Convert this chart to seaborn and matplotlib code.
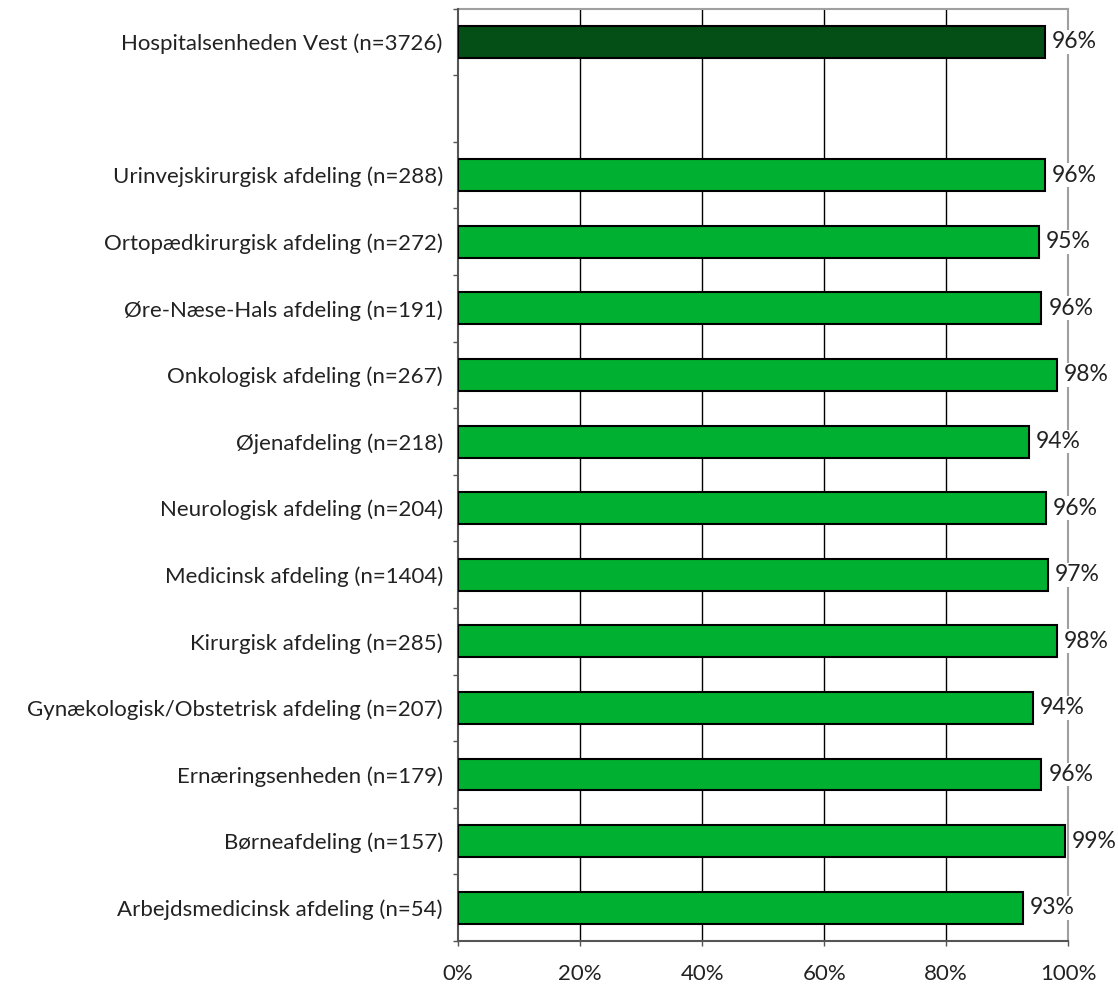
import pandas as pd
import matplotlib.pyplot as plt
import seaborn as sns

# Data (percent)
labels = [
    "Hospitalsenheden Vest (n=3726)",
    " ",
    "Urinvejskirurgisk afdeling (n=288)",
    "Ortopædkirurgisk afdeling (n=272)",
    "Øre-Næse-Hals afdeling (n=191)",
    "Onkologisk afdeling (n=267)",
    "Øjenafdeling (n=218)",
    "Neurologisk afdeling (n=204)",
    "Medicinsk afdeling (n=1404)",
    "Kirurgisk afdeling (n=285)",
    "Gynækologisk/Obstetrisk afdeling (n=207)",
    "Ernæringsenheden (n=179)",
    "Børneafdeling (n=157)",
    "Arbejdsmedicinsk afdeling (n=54)",
]
values = [96.2, None, 96.2, 95.2, 95.6, 98.1, 93.6, 96.4, 96.6, 98.1, 94.2, 95.6, 99.4, 92.6]
groups = ["total", "gap"] + ["dept"] * 12
x_ticks = [0, 20, 40, 60, 80, 100]
x_ticklabels = ["0%", "20%", "40%", "60%", "80%", "100%"]

df = pd.DataFrame({"label": labels, "value": values, "group": groups})
bars = df.dropna()

sns.set_style("white")
plt.rcParams["font.family"] = ["Lato", "DejaVu Sans"]
plt.rcParams["text.color"] = "#222222"

fig = plt.figure(figsize=(11.18, 9.85), dpi=100)
ax = fig.add_axes([0.4097, 0.0447, 0.9555 - 0.4097, 0.9912 - 0.0447])

sns.barplot(data=bars, x="value", y="label", hue="group", order=labels,
            palette={"total": "#034f16", "dept": "#00b030"}, dodge=False,
            saturation=1, width=0.48, edgecolor="black", linewidth=1.5,
            legend=False, zorder=3, ax=ax)

for c in ax.containers:
    ax.bar_label(c, fmt="%.0f%%", padding=5, fontsize=16.5, color="#222222",
                 bbox=dict(facecolor="white", edgecolor="none", pad=1),
                 zorder=5)

ax.set_xlim(0, 100)
ax.set_ylim(len(labels) - 0.5, -0.5)
ax.set_xticks(x_ticks)
ax.set_xticklabels(x_ticklabels, fontsize=16, color="#222222")
ax.set_yticks(range(len(labels)))
ax.set_yticklabels(labels, fontsize=16, color="#222222")
ax.set_xlabel("")
ax.set_ylabel("")

# gridlines at 20% steps
for v in x_ticks[1:-1]:
    ax.axvline(v, color="black", linewidth=1, zorder=1)

# ticks sit at the category boundaries, labels between them
ax.set_yticks([i - 0.5 for i in range(len(labels) + 1)], minor=True)
ax.tick_params(axis="y", which="major", left=True, length=0, pad=11)
ax.tick_params(axis="y", which="minor", left=True, length=3.5,
               color="#555555", width=1)
ax.tick_params(axis="x", bottom=True, length=3.5, color="#555555",
               width=1, pad=13)

for side in ["left", "bottom"]:
    ax.spines[side].set_color("#555555")
    ax.spines[side].set_linewidth(1.5)
for side in ["right", "top"]:
    ax.spines[side].set_visible(True)
    ax.spines[side].set_color("#a0a0a0")
    ax.spines[side].set_linewidth(1.5)
    ax.spines[side].set_zorder(2)

plt.savefig("out.png", dpi=100)
plt.close()
